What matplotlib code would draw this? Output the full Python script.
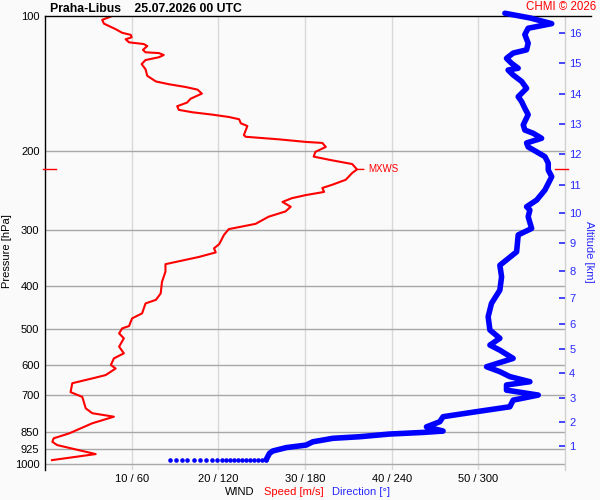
import numpy as np
import matplotlib
matplotlib.use('Agg')
import matplotlib.pyplot as plt
import matplotlib.transforms as mtransforms

plt.rcParams['font.family'] = ['Liberation Sans', 'DejaVu Sans']

# ---- data -------------------------------------------------------------
# wind speed profile (m/s) vs pressure (hPa), surface -> top
speed_ms = [0.8, 5.85, 3.9, 1.4, 0.85, 1.0, 2.8, 5.45, 7.95, 5.45, 4.7, 4.3, 2.95, 3.15,
            5.45, 7.0, 8.15, 7.6, 7.95, 9.1, 8.55, 9.1, 8.55, 8.9, 9.7, 10.05, 11.2, 11.6,
            12.8, 13.35, 13.5, 13.9, 13.9, 17.75, 19.7, 19.5, 20.1, 20.65, 21.2, 24.3, 25.8,
            27.75, 28.35, 27.4, 28.5, 30.1, 32.2, 32.0, 33.15, 34.7, 35.45, 36.0, 35.45,
            33.15, 31.0, 31.2, 32.4, 32.0, 30.1, 27.0, 23.15, 22.95, 23.35, 22.6, 22.4, 21.2,
            19.3, 17.0, 15.45, 15.25, 16.4, 16.8, 18.1, 17.6, 16.2, 14.3, 12.8, 11.8, 11.6,
            11.15, 11.6, 13.15, 13.7, 13.15, 11.6, 11.3, 11.8, 11.4, 9.7, 9.3, 10.0, 9.9,
            8.9, 8.15, 6.8, 6.6, 7.75, 8.9]
speed_p = [980, 950, 931, 907, 892, 876, 854, 811, 784, 770, 751, 708, 691, 660, 644, 633,
           612, 601, 581, 566, 547, 524, 511, 498, 492, 473, 461, 438, 430, 416, 392, 372,
           358, 345, 337, 330, 323, 308, 299, 291, 280.5, 273, 266.5, 260, 255, 251, 247,
           242, 238, 232, 224, 220, 214, 210, 206, 201, 196, 192, 191, 188.5, 186, 184.4,
           176, 173.6, 170, 168, 166, 164, 162, 159, 156, 153, 149, 146, 144, 142, 140, 136,
           131.5, 128, 125.4, 123.6, 122.2, 121, 120.5, 119, 116.7, 115.5, 114.5, 112.7,
           111.6, 110.2, 109, 107, 104, 102, 100, 99.5]

# wind direction profile (deg) vs pressure (hPa)
dir_deg = [153.1, 155.4, 157.7, 167, 180.8, 185.4, 199.3, 217.8, 238.6, 261.7, 275.6, 264.1,
           273.3, 275.6, 298.7, 321.8, 324.1, 341.5, 319.5, 319.5, 335.7, 321.8, 314.9, 305.7,
           324.1, 314.9, 308, 314.9, 308, 306.8, 309.1, 314.9, 316.1, 314.9, 326.5, 327.6,
           336.9, 334.5, 335.7, 333.4, 340.4, 346.1, 350.8, 348.4, 348.4, 346.1, 340.4, 334.5,
           333.4, 343.8, 338, 332.2, 331.1, 334.5, 332.2, 330, 327.6, 333.4, 330, 324.1, 320.6,
           327.6, 323, 319.5, 324.1, 333.4, 334.5, 332.2, 334.5, 350.8, 335.7, 318.4]
dir_p = [978, 946.5, 935, 919, 907, 892, 876, 869, 857, 850, 844, 826, 804.5, 784, 764, 745,
         720, 701.5, 684, 666, 655, 638, 622, 606.5, 581, 557, 542.5, 524, 502, 469, 438, 409,
         382, 360, 336, 308, 298, 280.5, 271, 266.5, 257.5, 244.6, 228.4, 220.7, 213, 206, 201,
         196, 192, 187.5, 182.7, 179.7, 175, 166, 160.7, 155.3, 151.4, 145, 140, 135.4, 132,
         130.8, 127.5, 124.3, 121, 119, 115, 110, 106.5, 104, 101, 98.6]

# direction readings at the surface before launch
ground_dir = [86.7, 90.9, 95.0, 98.5, 103.3, 107.5, 111.7, 115.8, 119.3, 122.8, 125.5, 128.3,
              131.1, 133.9, 136.6, 139.4, 142.2, 145.0, 147.7, 150.5, 153.3]
surface_p = 980

# altitude axis (km) and corresponding pressure (hPa)
alt_km = [1, 2, 3, 4, 5, 6, 7, 8, 9, 10, 11, 12, 13, 14, 15, 16]
alt_p = [910, 806, 712, 627, 553, 488, 425, 371, 321, 275, 238, 203, 174.5, 149.6, 127.1, 109.3]

p_ticks = [100, 200, 300, 400, 500, 600, 700, 850, 925, 1000]
speed_ticks = [10, 20, 30, 40, 50]
wind_labels = ['10 / 60', '20 / 120', '30 / 180', '40 / 240', '50 / 300']

RED = '#ff0000'
BLUE = '#0000ff'
BLUE_TXT = '#2828ff'
BG = '#fafafa'

# ---- figure -----------------------------------------------------------
fig = plt.figure(figsize=(6, 5), dpi=100, facecolor=BG)
ax = fig.add_axes([45/600, 30/500, 520/600, 454/500])
ax.set_facecolor(BG)
ax.set_yscale('log')
ax.set_ylim(1031, 100)
ax.set_xlim(0, 60)

# grids
for p in p_ticks[1:]:
    ax.axhline(p, color='#a8a8a8', lw=1.0, zorder=1)
for s in speed_ticks:
    ax.axvline(s, color='#d8d8d8', lw=1.0, zorder=0.5)

ax.set_yticks(p_ticks)
ax.set_yticklabels([str(p) for p in p_ticks])
ax.yaxis.set_minor_locator(matplotlib.ticker.NullLocator())
ax.set_xticks(speed_ticks)
ax.set_xticklabels(wind_labels)
ax.tick_params(axis='y', length=0, pad=4, labelsize=8)
ax.tick_params(axis='x', length=0, pad=3, labelsize=8)

for sp in ['top', 'bottom']:
    ax.spines[sp].set_visible(False)
ax.spines['left'].set_color('black')
ax.spines['left'].set_linewidth(1.0)
ax.spines['right'].set_color('#d0d0d0')
ax.spines['right'].set_linewidth(1.0)

# top black line extending to the right
ax.plot([0, 1.05], [1, 1], transform=ax.transAxes, color='black', lw=1.0, clip_on=False, zorder=5)

# speed
ax.plot(speed_ms, speed_p, color=RED, lw=1.5, zorder=3)

# MXWS marker
imax = int(np.argmax(speed_ms))
mx_s, mx_p = speed_ms[imax], speed_p[imax]
ax.annotate('MXWS', xy=(mx_s, mx_p), xytext=(8, 0), textcoords='offset points',
            color=RED, fontsize=7, va='center', ha='left',
            arrowprops=dict(arrowstyle='-', color=RED, lw=1.0, shrinkA=1, shrinkB=0))
trans = mtransforms.blended_transform_factory(ax.transAxes, ax.transData)
ax.plot([-0.004, 0.021], [mx_p, mx_p], transform=trans, color=RED, lw=1.0, clip_on=False, zorder=5)
ax.plot([0.981, 1.006], [mx_p, mx_p], transform=trans, color=RED, lw=1.0, clip_on=False, zorder=5)

# direction axis
ax2 = ax.twiny()
ax2.set_xlim(0, 360)
ax2.set_xticks([])
for sp in ax2.spines.values():
    sp.set_visible(False)
ax2.plot(dir_deg, dir_p, color=BLUE, lw=4.0, solid_capstyle='round',
         solid_joinstyle='round', clip_on=False, zorder=4)
ax2.plot(ground_dir, [surface_p] * len(ground_dir), 'o', ms=3.3, color=BLUE,
         markeredgewidth=0, clip_on=False, zorder=4)

# altitude axis
ax3 = ax.twinx()
ax3.set_yscale('log')
ax3.set_ylim(1031, 100)
ax3.yaxis.set_minor_locator(matplotlib.ticker.NullLocator())
ax3.set_yticks(alt_p)
ax3.set_yticklabels([str(a) for a in alt_km])
ax3.tick_params(axis='y', direction='in', length=4.5, width=1.2, color=BLUE_TXT,
                labelcolor=BLUE_TXT, labelsize=8, pad=3)
for sp in ax3.spines.values():
    sp.set_visible(False)

# texts
fig.text(50/600, 1 - 12/500, 'Praha-Libus    25.07.2026 00 UTC', fontsize=8.8,
         fontweight='bold', ha='left', va='baseline')
fig.text(596/600, 1 - 10.5/500, 'CHMI \u00a9 2026', fontsize=8.3, color=RED,
         ha='right', va='baseline')
fig.text(7.5/600, 1 - 251/500, 'Pressure [hPa]', rotation=90, fontsize=8,
         ha='center', va='center')
fig.text(589/600, 1 - 252/500, 'Altitude [km]', rotation=270, fontsize=8,
         color=BLUE_TXT, ha='center', va='center')
fig.text(225/600, 1 - 495/500, 'WIND', fontsize=8, ha='left', va='baseline')
fig.text(264/600, 1 - 495/500, 'Speed [m/s]', fontsize=8, color=RED, ha='left', va='baseline')
fig.text(332/600, 1 - 495/500, 'Direction [\u00b0]', fontsize=8, color=BLUE_TXT,
         ha='left', va='baseline')

fig.savefig('out.png', dpi=100, facecolor=BG)
